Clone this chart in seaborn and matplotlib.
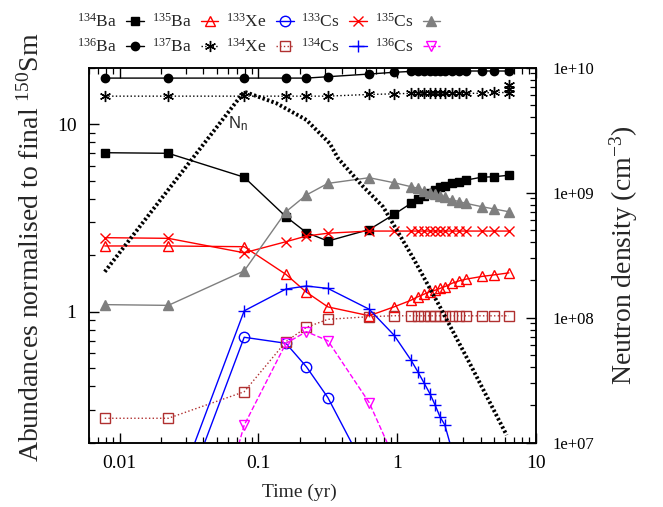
import matplotlib
matplotlib.use("Agg")
import matplotlib.pyplot as plt
import seaborn as sns
import numpy as np
from matplotlib.ticker import LogLocator, FuncFormatter, NullFormatter

# ---------------- data ----------------
times = [0.0078, 0.0224, 0.079, 0.158, 0.222, 0.317, 0.63, 0.95,
         1.26, 1.41, 1.57, 1.73, 1.88, 2.04, 2.21, 2.51, 2.81, 3.14,
         4.07, 4.99, 6.41]

ba134 = [7.04, 6.99, 5.21, 3.21, 2.64, 2.38, 2.74, 3.30, 3.78, 3.97, 4.14,
         4.31, 4.45, 4.60, 4.69, 4.83, 4.93, 5.03, 5.21, 5.24, 5.34]
ba136 = [17.6, 17.6, 17.6, 17.6, 17.6, 17.9, 18.5, 18.9, 19.1, 19.1, 19.2,
         19.2, 19.2, 19.2, 19.2, 19.2, 19.2, 19.2, 19.2, 19.2, 19.2]
ba135 = [2.24, 2.24, 2.22, 1.58, 1.27, 1.06, 0.951, 1.06, 1.15, 1.20, 1.24,
         1.28, 1.30, 1.33, 1.36, 1.42, 1.46, 1.49, 1.54, 1.57, 1.61]
ba137_t = times + [6.41, 6.41]
ba137 = [14.1, 14.1, 14.1, 14.1, 14.1, 14.1, 14.4, 14.5, 14.6, 14.6, 14.6,
         14.6, 14.6, 14.6, 14.6, 14.6, 14.6, 14.6, 14.6, 14.8, 14.7, 15.4, 16.1]
xe133 = [0.02, 0.061, 0.73, 0.678, 0.508, 0.348, 0.132, 0.05, 0.019, 0.012,
         0.007, 0.004, 0.0025, 0.0015, 0.001, 0.0004, 0.0002, 0.0001,
         1e-5, 1e-6, 1e-7]
xe134 = [0.27, 0.27, 0.374, 0.692, 0.825, 0.91, 0.94, 0.951, 0.95, 0.95,
         0.95, 0.95, 0.95, 0.95, 0.95, 0.95, 0.95, 0.95, 0.95, 0.95, 0.95]
cs133 = [2.48, 2.46, 2.06, 2.36, 2.53, 2.62, 2.69, 2.69, 2.69, 2.69, 2.69,
         2.69, 2.69, 2.69, 2.69, 2.69, 2.69, 2.69, 2.69, 2.69, 2.69]
cs134 = [0.02, 0.084, 1.01, 1.32, 1.37, 1.33, 1.03, 0.75, 0.552, 0.479,
         0.415, 0.364, 0.318, 0.275, 0.249, 0.178, 0.13, 0.09, 0.04, 0.018,
         0.006]
cs135 = [1.09, 1.08, 1.65, 3.41, 4.19, 4.83, 5.18, 4.87, 4.64, 4.55, 4.42,
         4.31, 4.23, 4.16, 4.07, 3.94, 3.86, 3.78, 3.63, 3.53, 3.41]
cs136 = [0.001, 0.0093, 0.248, 0.678, 0.782, 0.70, 0.327, 0.166, 0.08, 0.05,
         0.03, 0.02, 0.012, 0.008, 0.005, 0.002, 0.001, 0.0005, 1e-4, 1e-5,
         1e-6]

t_nn = [0.0078, 0.079, 0.135, 0.222, 0.327, 0.376, 0.569, 0.794, 1.31,
        2.04, 3.35, 6.17]
nn = [2.33e8, 6.43e9, 5.19e9, 3.82e9, 2.48e9, 1.88e9, 1.12e9, 7.7e8,
      2.99e8, 1.22e8, 4.3e7, 1.15e7]

labels = ["$^{134}$Ba", "$^{136}$Ba", "$^{135}$Ba", "$^{137}$Ba",
          "$^{133}$Xe", "$^{134}$Xe", "$^{133}$Cs", "$^{134}$Cs",
          "$^{135}$Cs", "$^{136}$Cs"]

# ---------------- style ----------------
sns.set_style("ticks")
plt.rcParams.update({
    "font.family": ["Liberation Serif", "DejaVu Serif"],
    "mathtext.fontset": "custom",
    "mathtext.rm": "Liberation Serif",
    "mathtext.default": "regular",
    "axes.linewidth": 1.1,
    "axes.edgecolor": "black",
    "xtick.direction": "in",
    "ytick.direction": "in",
    "xtick.color": "black",
    "ytick.color": "black",
})

fig = plt.figure(figsize=(6.63, 5.07), dpi=100)
ax = fig.add_axes([0.1342, 0.1268, 0.6738, 0.7397])
ax.set_xscale("log")
ax.set_yscale("log")

asterisk = (6, 2, 0)
specs = [
    # (label, x, y, color, marker, linestyle, ms, filled)
    (labels[0], times, ba134, "black", "s", "-", 6, True),
    (labels[1], times, ba136, "black", "o", "-", 6, True),
    (labels[2], times, ba135, "#ff0000", "^", "-", 7.5, False),
    (labels[3], ba137_t, ba137, "black", asterisk, ":", 8, True),
    (labels[4], times, xe133, "#0000ff", "o", "-", 7.5, False),
    (labels[5], times, xe134, "#b03030", "s", ":", 7.5, False),
    (labels[6], times, cs133, "#ff0000", "x", "-", 7.5, True),
    (labels[7], times, cs134, "#0000ff", "+", "-", 8, True),
    (labels[8], times, cs135, "#7f7f7f", "^", "-", 6.5, True),
    (labels[9], times, cs136, "#ff00ff", "v", "--", 7.5, False),
]

for lab, xs, ys, col, mk, ls, ms, filled in specs:
    sns.lineplot(x=xs, y=ys, ax=ax, color=col, marker=mk, linestyle=ls,
                 linewidth=1.0, markersize=ms, estimator=None, sort=False,
                 markeredgecolor=col, markeredgewidth=1.0,
                 markerfacecolor=(col if filled else "none"), label=lab)

if ax.get_legend() is not None:
    ax.get_legend().remove()

ax.set_xlim(0.006, 10)
ax.set_ylim(0.2, 20)

ax.xaxis.set_major_locator(LogLocator(base=10, numticks=10))
ax.xaxis.set_minor_locator(LogLocator(base=10, subs=np.arange(2, 10), numticks=20))
ax.xaxis.set_minor_formatter(NullFormatter())
ax.xaxis.set_major_formatter(FuncFormatter(lambda v, _: f"{v:g}"))
ax.yaxis.set_major_locator(LogLocator(base=10, numticks=10))
ax.yaxis.set_minor_locator(LogLocator(base=10, subs=np.arange(2, 10), numticks=20))
ax.yaxis.set_minor_formatter(NullFormatter())
ax.yaxis.set_major_formatter(FuncFormatter(lambda v, _: f"{v:g}"))
ax.tick_params(axis="both", which="major", length=7, width=1, labelsize=14, pad=9)
ax.tick_params(axis="both", which="minor", length=4, width=0.9)
ax.tick_params(axis="x", which="both", top=True)
ax.tick_params(axis="y", which="both", right=False)

ax.set_xlabel("Time (yr)", fontsize=14)
ax.xaxis.set_label_coords(0.472, -0.108)
ax.set_ylabel("Abundances normalised to final $^{150}$Sm", fontsize=20)
ax.yaxis.set_label_coords(-0.10, 0.52)

# neutron density on the right axis
ax2 = ax.twinx()
ax2.set_yscale("log")
sns.lineplot(x=t_nn, y=nn, ax=ax2, color="black", linewidth=2.8,
             linestyle=(0, (0.6, 0.6)), estimator=None, sort=False)
for ln in ax2.get_lines():
    ln.set_dash_capstyle("butt")
ax2.set_ylim(1e7, 1e10)
ax2.yaxis.set_major_locator(LogLocator(base=10, numticks=10))
ax2.yaxis.set_minor_locator(LogLocator(base=10, subs=np.arange(2, 10), numticks=20))
ax2.yaxis.set_minor_formatter(NullFormatter())
ax2.yaxis.set_major_formatter(FuncFormatter(lambda v, _: f"{v:.0e}"))
ax2.tick_params(axis="y", which="major", length=7, width=1, labelsize=12, pad=12)
ax2.tick_params(axis="y", which="minor", length=4, width=0.9)
ax2.set_ylabel("Neutron density (cm$^{-3}$)", fontsize=20, rotation=90)
ax2.yaxis.set_label_coords(1.16, 0.5)
ax2.set_xlim(0.006, 10)

ax.text(0.311, 0.838, "N$_{n}$", transform=ax.transAxes, fontsize=12,
        family="Liberation Sans", va="baseline", ha="left")

handles, labs = ax.get_legend_handles_labels()
fig.legend(handles, labs, ncol=5, loc="upper left",
           bbox_to_anchor=(77 / 663, 1 - 13 / 507), frameon=False,
           markerfirst=False, fontsize=12.5, handlelength=1.0,
           handletextpad=0.55, columnspacing=0.45, labelspacing=0.4,
           borderaxespad=0, borderpad=0)

fig.savefig("out.png", dpi=100)
